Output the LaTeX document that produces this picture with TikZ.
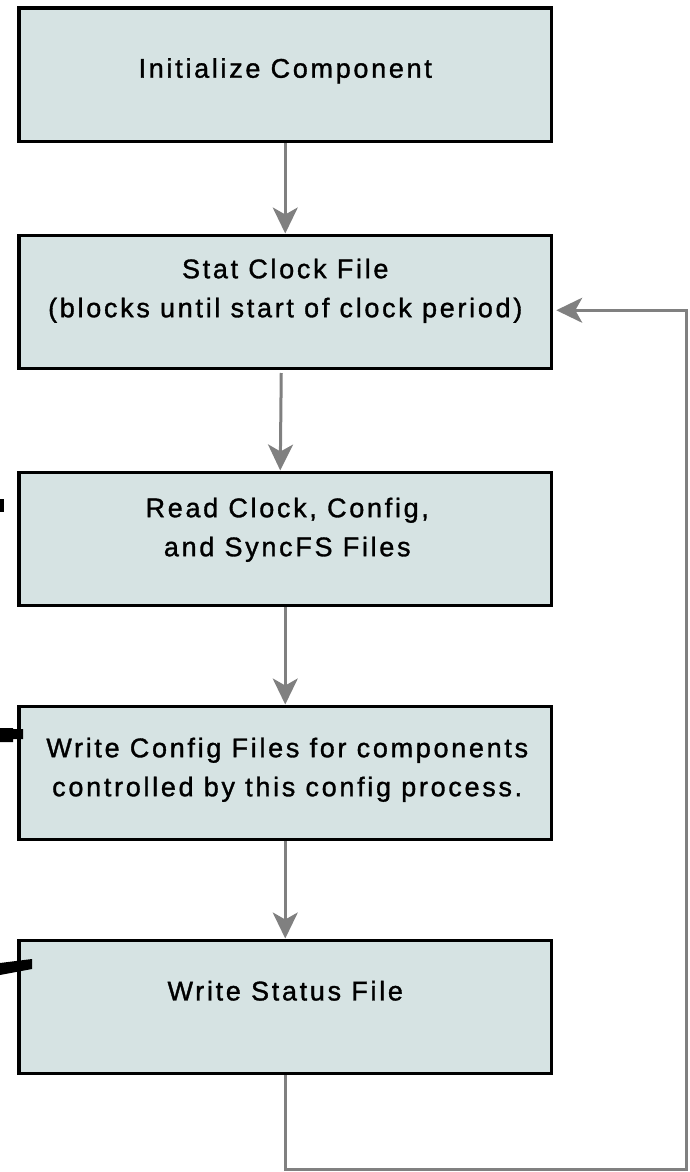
\documentclass[tikz,border=0pt]{standalone}
\usepackage{fontspec}
\setmainfont{Liberation Sans}[LetterSpace=10,FakeBold=1.2]
\usepackage{tikz}
\usetikzlibrary{positioning}
\usetikzlibrary{arrows.meta}

\definecolor{boxfill}{RGB}{214,227,227}
\definecolor{flowgray}{RGB}{128,128,128}

\begin{document}
\begin{tikzpicture}[x=1pt,y=-1pt]
 \useasboundingbox (0,0) rectangle (689,1172);
 \coordinate (origo) at (285.25,74.75);

\tikzstyle{stepbox}=[draw=black,fill=boxfill,line width=3.5pt,minimum width=532.5pt,minimum height=133pt,inner sep=0pt]
\tikzstyle{steptext}=[align=center,font=\fontsize{27}{39}\selectfont,inner sep=0pt]
\tikzstyle{flow}=[draw=flowgray,line width=3pt,-{Stealth[length=26pt,width=25pt,inset=7pt]}]

   %the five steps
   \node (init) [stepbox] at (origo) {};
   \node (stat) [stepbox,below=90.5pt of init] {};
   \node (read) [stepbox,below=100.5pt of stat] {};
   \node (write_cfg) [stepbox,below=97.5pt of read] {};
   \node (write_stat) [stepbox,below=97.5pt of write_cfg] {};

   %texts
   \node (init_label) [steptext] at ([yshift=4pt]init.center) {Initialize Component};
   \node (stat_label) [steptext] at ([yshift=11pt]stat.center) {Stat Clock File\\(blocks until start of clock period)};
   \node (read_label) [steptext] at ([yshift=9pt,xshift=2pt]read.center) {Read Clock, Config,\\ and SyncFS Files};
   \node (write_cfg_label) [steptext] at ([yshift=3pt,xshift=2pt]write_cfg.center) {Write Config Files for components\\controlled by this config process.};
   \node (write_stat_label) [steptext] at ([yshift=16pt]write_stat.center) {Write Status File};

   %arrows
   \draw[flow] (init.south) -- (stat.north);
   \draw[flow] ([xshift=-4pt,yshift=-3pt]stat.south) -- ([xshift=-5pt]read.north);
   \draw[flow] (read.south) -- (write_cfg.north);
   \draw[flow] (write_cfg.south) -- (write_stat.north);

   %loop back
   \coordinate (loop_corner) at (686,1169);
   \draw[flow] (write_stat.south) |- (loop_corner) |- ([xshift=3pt,yshift=-8.5pt]stat.east);

   %black marks at the left edge
   \fill[black] (0,499) rectangle (4,512);
   \fill[black] (0,728) -- (13,728) -- (13,729) -- (23,729) -- (23,739) -- (13,739) -- (13,742) -- (0,742) -- cycle;
   \fill[black] (0,963) -- (32,959) -- (32,969) -- (0,975) -- cycle;

\end{tikzpicture}
\end{document}
